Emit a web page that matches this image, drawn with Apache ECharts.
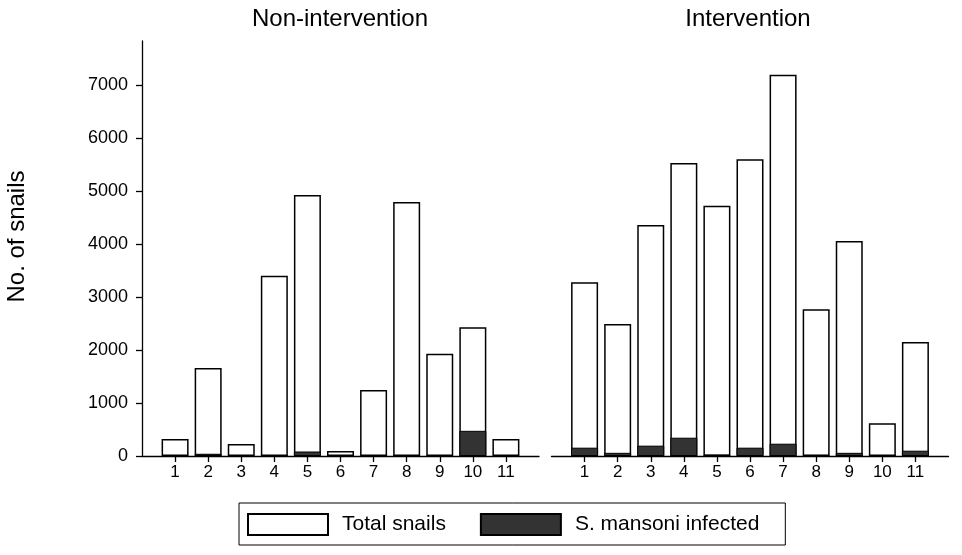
<!DOCTYPE html>
<html>
<head>
<meta charset="utf-8">
<script src="https://cdn.jsdelivr.net/npm/echarts@6/dist/echarts.min.js"></script>
<style>
html,body{margin:0;padding:0;background:#fff;}
#chart{width:962px;height:555px;}
</style>
</head>
<body>
<div id="chart"></div>
<script>
// ---- data ----
const categories = ['1','2','3','4','5','6','7','8','9','10','11'];
const nonInterventionTotal    = [320, 1660, 225, 3400, 4925, 95, 1245, 4790, 1930, 2430, 320];
const nonInterventionInfected = [0, 42, 0, 15, 85, 0, 0, 15, 0, 475, 0];
const interventionTotal       = [3280, 2490, 4360, 5530, 4720, 5600, 7195, 2770, 4055, 620, 2150];
const interventionInfected    = [157, 60, 195, 345, 25, 157, 232, 20, 60, 15, 100];
const yTicks = [0, 1000, 2000, 3000, 4000, 5000, 6000, 7000];
const panelTitles = ['Non-intervention', 'Intervention'];
const seriesNames = ['Total snails', 'S. mansoni infected'];
const yAxisName = 'No. of snails';

// ---- build ----
const FONT = "'Liberation Sans', Arial, sans-serif";
const paddedCats = [''].concat(categories, ['']);
const pad = arr => [null].concat(arr.map(v => (v === 0 ? null : v)), [null]);
const YMAX = 7830;

const chart = echarts.init(document.getElementById('chart'), null, {renderer: 'canvas'});

function xAxisFor(gridIndex) {
  return {
    type: 'category', gridIndex, data: paddedCats, boundaryGap: false,
    axisLine: {show: true, lineStyle: {color: '#000', width: 1.3}},
    axisTick: {show: true, length: 6, lineStyle: {color: '#000', width: 1.3},
      interval: (i, v) => v !== ''},
    axisLabel: {color: '#000', fontSize: 17, fontFamily: FONT, margin: 8, interval: 0},
    splitLine: {show: false}
  };
}

const totalStyle = {color: '#ffffff', borderColor: '#000', borderWidth: 1.5};
const infStyle = {color: '#333333', borderColor: '#000', borderWidth: 1};

const option = {
  backgroundColor: '#ffffff',
  animation: false,
  title: [
    {text: panelTitles[0], left: 340, top: 7, textAlign: 'center', padding: 0,
     textStyle: {fontSize: 24, fontWeight: 'normal', color: '#000', fontFamily: FONT}},
    {text: panelTitles[1], left: 748, top: 7, textAlign: 'center', padding: 0,
     textStyle: {fontSize: 24, fontWeight: 'normal', color: '#000', fontFamily: FONT}}
  ],
  legend: {
    data: seriesNames.map(n => ({name: n, icon: 'rect'})),
    left: 239, top: 503,
    orient: 'horizontal',
    itemWidth: 80, itemHeight: 21, itemGap: 34,
    padding: [10, 26, 9, 8],
    borderColor: '#000', borderWidth: 1,
    selectedMode: false,
    textStyle: {fontSize: 21, color: '#000', fontFamily: FONT, padding: [0, 0, 0, 9]}
  },
  grid: [
    {left: 142, top: 41, width: 397, height: 415},
    {left: 551.5, top: 41, width: 397, height: 415}
  ],
  xAxis: [xAxisFor(0), xAxisFor(1)],
  yAxis: [
    {type: 'value', gridIndex: 0, min: 0, max: YMAX, interval: 1000,
     name: yAxisName, nameLocation: 'middle', nameRotate: 90, nameGap: 113,
     nameTextStyle: {fontSize: 24, color: '#000', fontFamily: FONT, padding: [0, 0, 0, 24]},
     axisLine: {show: true, lineStyle: {color: '#000', width: 1.3}},
     axisTick: {show: true, length: 6, lineStyle: {color: '#000', width: 1.3}, customValues: yTicks},
     axisLabel: {color: '#000', fontSize: 18, fontFamily: FONT, margin: 14, customValues: yTicks,
       formatter: v => String(v)},
     splitLine: {show: false}},
    {type: 'value', gridIndex: 1, min: 0, max: YMAX, interval: 1000, show: false,
     splitLine: {show: false}}
  ],
  series: [
    {type: 'bar', name: seriesNames[0], xAxisIndex: 0, yAxisIndex: 0, data: pad(nonInterventionTotal),
     barWidth: 27, barGap: '-100%', itemStyle: totalStyle, z: 2},
    {type: 'bar', name: seriesNames[1], xAxisIndex: 0, yAxisIndex: 0, data: pad(nonInterventionInfected),
     barWidth: 27, barGap: '-100%', itemStyle: infStyle, z: 3},
    {type: 'bar', name: seriesNames[0], xAxisIndex: 1, yAxisIndex: 1, data: pad(interventionTotal),
     barWidth: 27, barGap: '-100%', itemStyle: totalStyle, z: 2},
    {type: 'bar', name: seriesNames[1], xAxisIndex: 1, yAxisIndex: 1, data: pad(interventionInfected),
     barWidth: 27, barGap: '-100%', itemStyle: infStyle, z: 3}
  ]
};
chart.setOption(option);
</script>
</body>
</html>
